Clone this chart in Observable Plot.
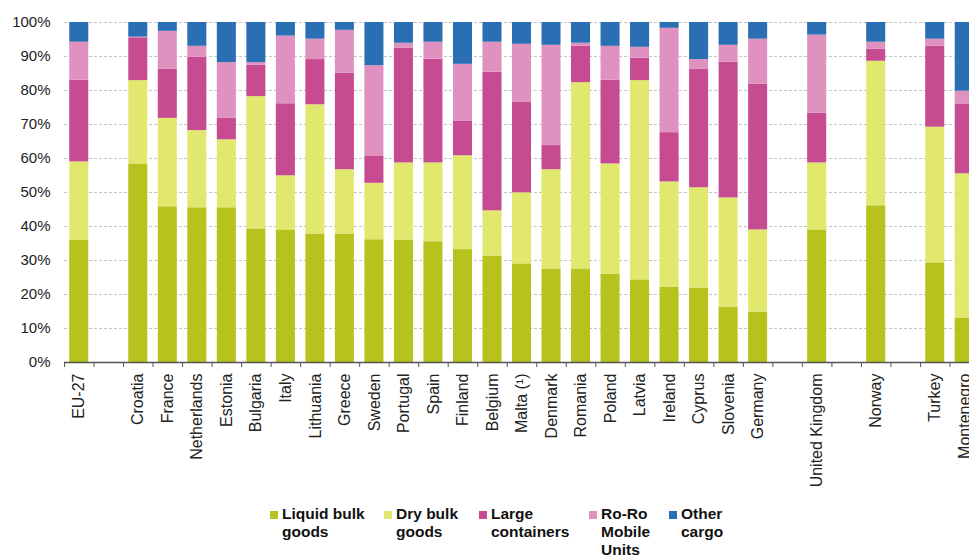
<!DOCTYPE html>
<html>
<head>
<meta charset="utf-8">
<script src="https://cdn.jsdelivr.net/npm/d3@7"></script>
<script src="https://cdn.jsdelivr.net/npm/@observablehq/plot@0.6"></script>
<style>
  html, body { margin: 0; padding: 0; background: #fff; overflow: hidden; }
  body { width: 969px; height: 556px; font-family: "Liberation Sans", Arial, sans-serif; }
  #legend { position: relative; height: 56px; }
  .item { position: absolute; top: 5px; display: flex; align-items: flex-start; }
  .sw { width: 8px; height: 8px; margin-top: 6px; margin-right: 4px; flex: none; }
  .lab { font-weight: bold; font-size: 15.5px; line-height: 18px; color: #111; white-space: pre-line; }
</style>
</head>
<body>
<div id="chart"></div>
<div id="legend"></div>
<script>
// x slots (blank entries are gaps between groups)
const slots = ["EU-27", " ", "Croatia", "France", "Netherlands", "Estonia", "Bulgaria", "Italy", "Lithuania", "Greece", "Sweden", "Portugal", "Spain", "Finland", "Belgium", "Malta (¹)", "Denmark", "Romania", "Poland", "Latvia", "Ireland", "Cyprus", "Slovenia", "Germany", "  ", "United Kingdom", "   ", "Norway", "    ", "Turkey", "Montenegro"];
const countries = ["EU-27", "Croatia", "France", "Netherlands", "Estonia", "Bulgaria", "Italy", "Lithuania", "Greece", "Sweden", "Portugal", "Spain", "Finland", "Belgium", "Malta (¹)", "Denmark", "Romania", "Poland", "Latvia", "Ireland", "Cyprus", "Slovenia", "Germany", "United Kingdom", "Norway", "Turkey", "Montenegro"];

const types = ["Liquid bulk goods", "Dry bulk goods", "Large containers", "Ro-Ro Mobile Units", "Other cargo"];
const legendLabels = ["Liquid bulk\ngoods", "Dry bulk\ngoods", "Large\ncontainers", "Ro-Ro\nMobile\nUnits", "Other\ncargo"];
const colors = ["#b8c21d", "#e2e86e", "#c64b91", "#df92c0", "#2a6eb3"];

const liquid = [35.9, 58.4, 45.8, 45.5, 45.5, 39.3, 39.0, 37.8, 37.8, 36.1, 35.9, 35.5, 33.2, 31.3, 29.0, 27.5, 27.5, 25.9, 24.3, 22.2, 21.9, 16.3, 14.8, 39.0, 46.1, 29.3, 13.1];
const dry    = [23.1, 24.5, 26.0, 22.7, 20.0, 38.9, 15.9, 38.0, 18.9, 16.6, 22.8, 23.2, 27.6, 13.3, 20.9, 29.2, 54.8, 32.5, 58.6, 30.9, 29.5, 32.1, 24.2, 19.7, 42.5, 39.9, 42.4];
const large  = [24.0, 12.6, 14.4, 21.6, 6.3, 9.2, 21.2, 13.3, 28.4, 7.9, 33.7, 30.5, 10.1, 40.8, 26.6, 7.1, 10.7, 24.6, 6.6, 14.5, 34.8, 39.9, 42.8, 14.6, 3.5, 23.8, 20.4];
const roro   = [11.2, 0.2, 11.2, 3.2, 16.4, 0.8, 19.9, 6.0, 12.6, 26.7, 1.5, 5.0, 16.8, 8.8, 17.1, 29.5, 0.9, 10.0, 3.2, 30.7, 2.9, 5.0, 13.3, 23.0, 2.1, 2.1, 3.9];
const other  = [5.8, 4.3, 2.6, 7.0, 11.8, 11.8, 4.0, 4.9, 2.3, 12.7, 6.1, 5.8, 12.3, 5.8, 6.4, 6.7, 6.1, 7.0, 7.3, 1.7, 10.9, 6.7, 4.9, 3.7, 5.8, 4.9, 20.2];

const yTicks = [0, 10, 20, 30, 40, 50, 60, 70, 80, 90, 100];

const series = [liquid, dry, large, roro, other];
const table = [];
countries.forEach((c, i) => {
  types.forEach((t, j) => table.push({country: c, type: t, value: series[j][i]}));
});

const W = 980, ML = 64, MR = 1;
const step = (W - ML - MR) / slots.length;

const chart = Plot.plot({
  width: W,
  height: 500,
  marginLeft: ML,
  marginRight: MR,
  marginTop: 22,
  marginBottom: 138,
  style: {fontFamily: "'Liberation Sans', Arial, sans-serif", color: "#222", maxWidth: "none", background: "#fff"},
  x: {type: "band", domain: slots, paddingInner: 0.355, paddingOuter: 0.1775, round: false, label: null},
  y: {domain: [0, 100], label: null},
  color: {domain: types, range: colors},
  marks: [
    Plot.gridY(yTicks, {stroke: "#c4c4c4", strokeOpacity: 1, strokeDasharray: "3,2"}),
    Plot.barY(table, {x: "country", y: "value", fill: "type"}),
    Plot.ruleY([0], {stroke: "#555", strokeWidth: 1.3}),
    Plot.axisY(yTicks, {tickSize: 0, tickPadding: 14, fontSize: 15, tickFormat: d => d + "%", label: null}),
    Plot.axisX({tickSize: 5, stroke: "#555", tickFormat: () => "", dx: -step / 2, label: null}),
    Plot.axisX({tickSize: 0, tickPadding: 11, tickRotate: -90, fontSize: 16, label: null})
  ]
});
document.getElementById("chart").appendChild(chart);

const lefts = [270, 384, 479, 589, 669];
const legend = document.getElementById("legend");
legendLabels.forEach((lab, i) => {
  const it = document.createElement("div");
  it.className = "item";
  it.style.left = lefts[i] + "px";
  const sw = document.createElement("span");
  sw.className = "sw";
  sw.style.background = colors[i];
  const tx = document.createElement("span");
  tx.className = "lab";
  tx.textContent = lab;
  it.appendChild(sw);
  it.appendChild(tx);
  legend.appendChild(it);
});
</script>
</body>
</html>
